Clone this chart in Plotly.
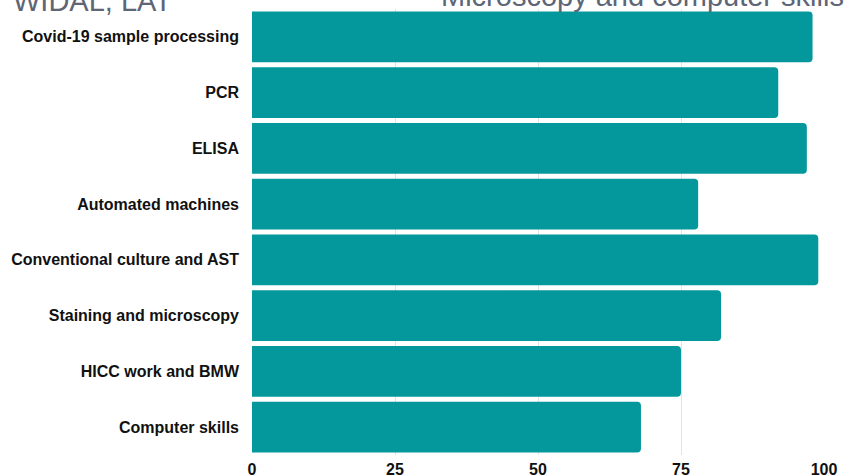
import plotly.graph_objects as go

categories = [
    "Covid-19 sample processing",
    "PCR",
    "ELISA",
    "Automated machines",
    "Conventional culture and AST",
    "Staining and microscopy",
    "HICC work and BMW",
    "Computer skills",
]
values = [98, 92, 97, 78, 99, 82, 75, 68]
x_ticks = [0, 25, 50, 75, 100]
side_labels = ["WIDAL, LAT", "Microscopy and computer skills"]

W, H = 850, 476
L, R, T, B = 252, 26, 9, 21
pw = W - L - R
ph = H - T - B

FONT = "Liberation Sans, Arial, sans-serif"

fig = go.Figure(
    go.Bar(
        x=values,
        y=categories,
        orientation="h",
        marker=dict(color="#04989d", line=dict(width=0)),
        hoverinfo="x+y",
    )
)

fig.update_layout(
    width=W,
    height=H,
    margin=dict(l=L, r=R, t=T, b=B, pad=0, autoexpand=False),
    plot_bgcolor="white",
    paper_bgcolor="white",
    bargap=0.093,
    barcornerradius=4,
    showlegend=False,
    font=dict(family=FONT, color="#111111"),
    xaxis=dict(
        range=[0, 100],
        tickvals=x_ticks,
        ticktext=[str(v) for v in x_ticks],
        showgrid=True,
        gridcolor="#e3e3e3",
        gridwidth=1,
        zeroline=False,
        showline=False,
        ticks="",
        automargin=False,
        tickfont=dict(size=16, color="#111111", family=FONT, weight="bold"),
        ticklabelstandoff=3,
        fixedrange=True,
    ),
    yaxis=dict(
        categoryorder="array",
        categoryarray=categories[::-1],
        showgrid=False,
        zeroline=False,
        showline=False,
        ticks="",
        automargin=False,
        tickfont=dict(size=16, color="#111111", family=FONT, weight="bold"),
        ticklabelstandoff=12,
        fixedrange=True,
    ),
    annotations=[
        dict(
            text=side_labels[0],
            xref="paper", yref="paper",
            x=(11 - L) / pw, y=1,
            xanchor="left", yanchor="middle",
            yshift=8,
            showarrow=False,
            font=dict(size=29, color="#5e6676", family=FONT),
        ),
        dict(
            text=side_labels[1],
            xref="paper", yref="paper",
            x=(846 - L) / pw, y=1,
            xanchor="right", yanchor="middle",
            yshift=13,
            showarrow=False,
            font=dict(size=29, color="#5e6676", family=FONT),
        ),
    ],
)

fig.write_html(
    "out.html",
    config={"displayModeBar": False},
    post_script="document.body.style.margin='0';document.body.style.overflow='hidden';",
)
